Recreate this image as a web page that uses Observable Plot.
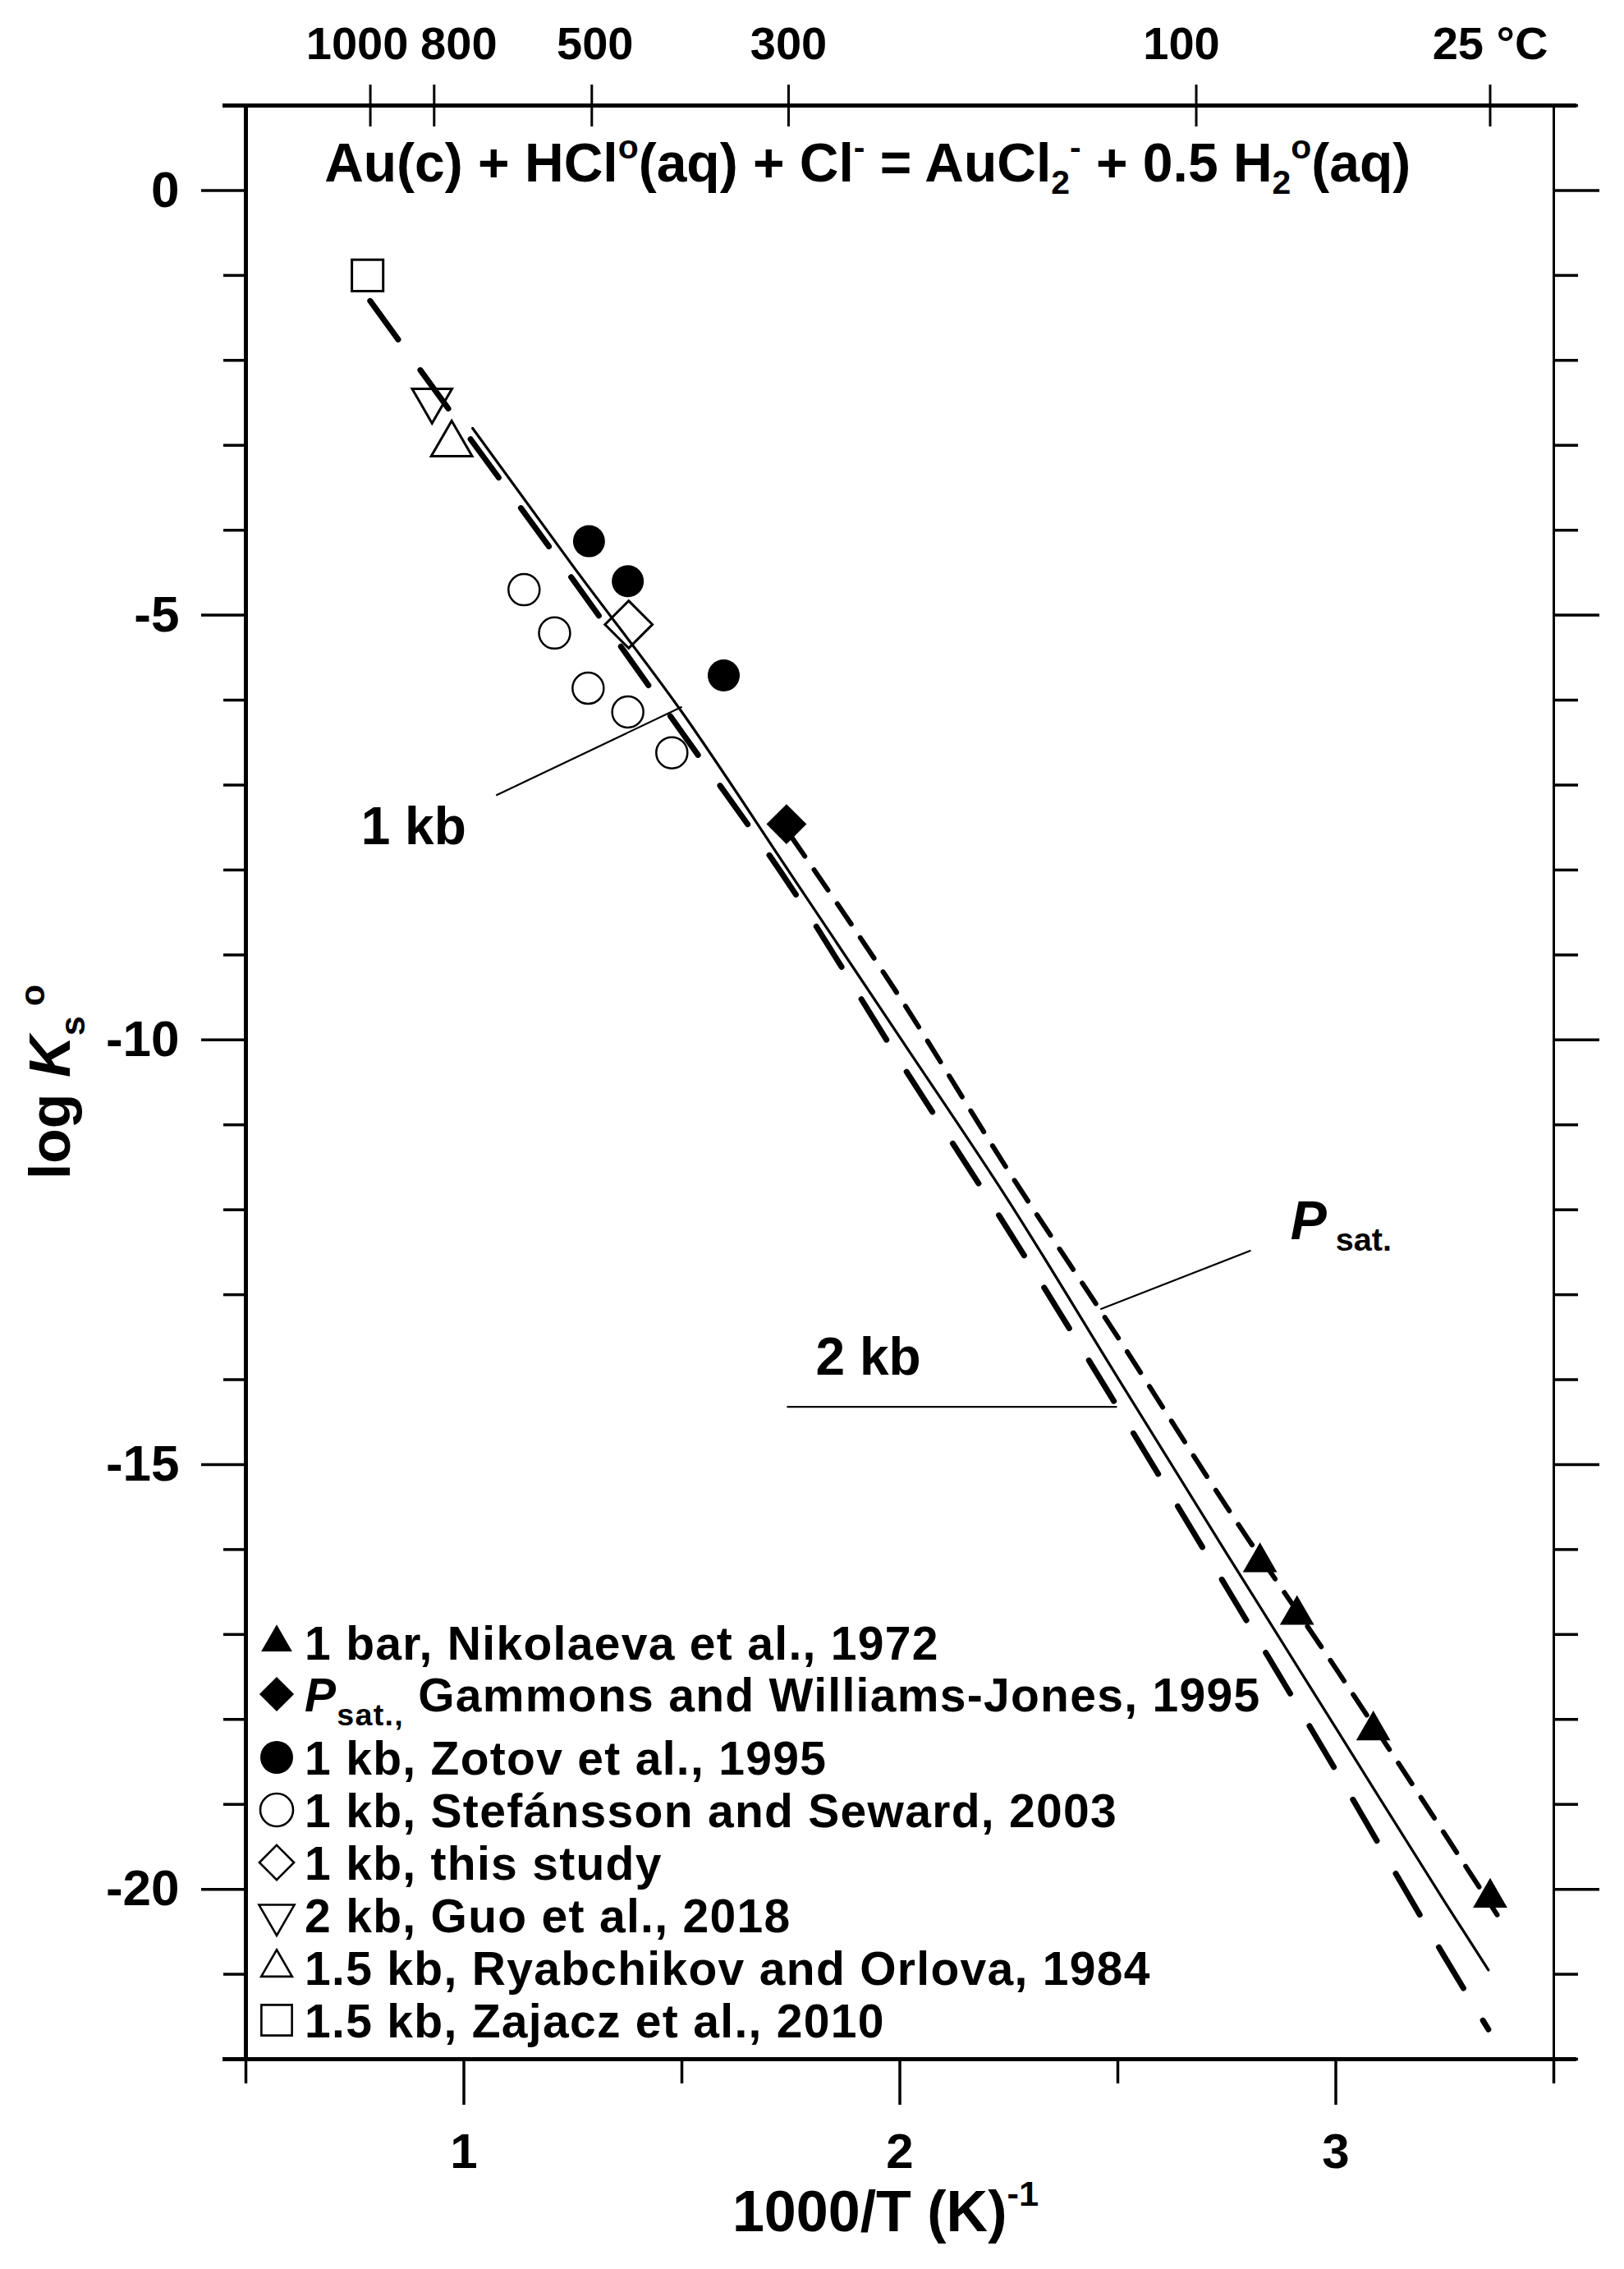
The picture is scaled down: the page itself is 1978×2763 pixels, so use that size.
<!DOCTYPE html>
<html>
<head>
<meta charset="utf-8">
<script src="https://cdn.jsdelivr.net/npm/d3@7"></script>
<script src="https://cdn.jsdelivr.net/npm/@observablehq/plot@0.6"></script>
<style>
  html, body { margin: 0; padding: 0; background: #fff; }
  #chart { width: 1978px; height: 2763px; }
  svg text { white-space: pre; }
</style>
</head>
<body>
<div id="chart"></div>
<script>
// ---------- scale extents & ticks ----------
const xDomain = [0.5, 3.5];
const yDomain = [-22, 1];
const topTempsC = [1000, 800, 500, 300, 100, 25];
const topTempLabels = ["1000", "800", "500", "300", "100", "25 °C"];
const bottomMajor = [1, 2, 3];
const bottomMinor = [0.5, 1.5, 2.5, 3.5];
const leftMajor = [0, -5, -10, -15, -20];
const leftMinor = [1, -1, -2, -3, -4, -6, -7, -8, -9, -11, -12, -13, -14, -16, -17, -18, -19, -21, -22];

// ---------- data points [1000/T, log Ks] ----------
const nikolaeva  = [[2.826, -16.15], [2.911, -16.77], [3.086, -18.13], [3.354, -20.10]];
const gammons    = [[1.740, -7.46]];
const zotov      = [[1.287, -4.13], [1.376, -4.60], [1.596, -5.71]];
const stefansson = [[1.138, -4.70], [1.208, -5.21], [1.285, -5.86], [1.376, -6.14], [1.477, -6.62]];
const thisStudy  = [[1.378, -5.11]];
const guo        = [[0.927, -2.47]];
const ryabchikov = [[0.972, -2.99]];
const zajacz     = [[0.779, -1.00]];

// ---------- model curves ----------
const curve1kb  = [[1.02, -2.80], [1.25, -4.42], [1.5, -6.14], [1.75, -8.05], [2.0, -9.97], [2.25, -11.90], [2.5, -13.98], [2.75, -16.05], [3.0, -18.10], [3.25, -20.15], [3.35, -20.95]];
const curve2kb  = [[0.785, -1.30], [1.0, -2.82], [1.25, -4.58], [1.5, -6.38], [1.75, -8.20], [2.0, -10.25], [2.25, -12.25], [2.5, -14.33], [2.75, -16.45], [3.0, -18.60], [3.25, -20.80], [3.35, -21.65]];
const curvePsat = [[1.75, -7.60], [2.0, -9.50], [2.25, -11.55], [2.5, -13.50], [2.75, -15.50], [3.0, -17.40], [3.25, -19.35], [3.37, -20.30]];

// ---------- annotations ----------
const curveLabels = [{text: "1 kb", x: 0.764, y: -7.50}, {text: "2 kb", x: 1.807, y: -13.74}];
const leaders = [
  {x1: 1.074, y1: -7.12, x2: 1.500, y2: -6.08},
  {x1: 1.741, y1: -14.32, x2: 2.498, y2: -14.32},
  {x1: 2.805, y1: -12.48, x2: 2.460, y2: -13.17}
];
const psatLabel = {x: 2.897, y: -12.35};
const titleAnchor = {x: 1.927, y: 0.10};

const topTicks = topTempsC.map((t, i) => ({x: 1000 / (t + 273.15), label: topTempLabels[i]}));
const topNudge = [-16, 30, 4, 0, -18, 0];

const X = d => d[0], Y = d => d[1];
const FONT = "'Liberation Sans', Arial, Helvetica, sans-serif";

const plot = Plot.plot({
  width: 1978,
  height: 2763,
  marginLeft: 299,
  marginRight: 86,
  marginTop: 128,
  marginBottom: 256,
  x: {domain: xDomain},
  y: {domain: yDomain},
  style: {fontFamily: FONT, fontWeight: "bold", background: "white", color: "black", overflow: "visible"},
  marks: [
    // axes
    Plot.axisY(leftMinor, {anchor: "left", tickSize: 27, tickFormat: () => "", strokeWidth: 3.5, label: null}),
    Plot.axisY(leftMajor, {anchor: "left", tickSize: 54, tickPadding: 27, tickFormat: d => String(d), fontSize: 62, fontWeight: "bold", strokeWidth: 3.5, label: null}),
    Plot.axisY(leftMinor, {anchor: "right", tickSize: 29, tickFormat: () => "", strokeWidth: 3.5, label: null}),
    Plot.axisY(leftMajor, {anchor: "right", tickSize: 55, tickFormat: () => "", strokeWidth: 3.5, label: null}),
    Plot.axisX(bottomMinor, {anchor: "bottom", tickSize: 30, tickFormat: () => "", strokeWidth: 3.5, label: null}),
    Plot.axisX(bottomMajor, {anchor: "bottom", tickSize: 56, tickPadding: 34, tickFormat: d => String(d), fontSize: 60, fontWeight: "bold", strokeWidth: 3.5, label: null}),
    Plot.axisX(topTicks.map(d => d.x), {anchor: "top", tickSize: 51, dy: 25, tickFormat: () => "", strokeWidth: 3, label: null}),
    ...topTicks.map((d, i) => Plot.text([d], {x: "x", text: "label", frameAnchor: "top", dy: -96, dx: topNudge[i], fontSize: 56, fontWeight: "bold"})),
    // frame
    Plot.frame({stroke: "black", strokeWidth: 3}),
    Plot.ruleX([xDomain[0]], {stroke: "black", strokeWidth: 5}),
    Plot.ruleY([yDomain[0]], {stroke: "black", strokeWidth: 5, insetLeft: -28, insetRight: -28}),
    Plot.ruleY([yDomain[1]], {stroke: "black", strokeWidth: 5, insetLeft: -28, insetRight: -28}),
    // curves
    Plot.line(curve2kb, {x: X, y: Y, stroke: "black", strokeWidth: 7, strokeDasharray: "58,46", curve: "monotone-x"}),
    Plot.line(curve1kb, {x: X, y: Y, stroke: "black", strokeWidth: 3.2, curve: "monotone-x"}),
    Plot.line(curvePsat, {x: X, y: Y, stroke: "black", strokeWidth: 6, strokeDasharray: "30,20", curve: "monotone-x"}),
    // leaders and labels
    Plot.link(leaders, {x1: "x1", y1: "y1", x2: "x2", y2: "y2", stroke: "black", strokeWidth: 2.2}),
    Plot.text(curveLabels, {x: "x", y: "y", text: "text", textAnchor: "start", fontSize: 64, fontWeight: "bold"}),
    // data
    Plot.dot(zajacz, {x: X, y: Y, symbol: "square", r: 21.5, fill: "none", stroke: "black", strokeWidth: 3}),
    Plot.dot(guo, {x: X, y: Y, symbol: "triangle", rotate: 180, r: 18, fill: "none", stroke: "black", strokeWidth: 3}),
    Plot.dot(ryabchikov, {x: X, y: Y, symbol: "triangle", r: 18.5, fill: "none", stroke: "black", strokeWidth: 3}),
    Plot.dot(stefansson, {x: X, y: Y, symbol: "circle", r: 19, fill: "none", stroke: "black", strokeWidth: 2.5}),
    Plot.dot(thisStudy, {x: X, y: Y, symbol: "diamond2", r: 26, fill: "none", stroke: "black", strokeWidth: 3}),
    Plot.dot(zotov, {x: X, y: Y, symbol: "circle", r: 19.5, fill: "black", stroke: "none"}),
    Plot.dot(gammons, {x: X, y: Y, symbol: "diamond2", r: 22, fill: "black", stroke: "none"}),
    Plot.dot(nikolaeva, {x: X, y: Y, symbol: "triangle", r: 15.5, fill: "black", stroke: "none"})
  ]
});

document.getElementById("chart").appendChild(plot);

// remove the empty tick texts of the label-less axes
d3.select(plot).selectAll("text").filter(function() { return this.textContent.trim() === ""; }).remove();

// ---------- rich text (sub/superscripts) ----------
const xs = plot.scale("x"), ys = plot.scale("y");
const svg = d3.select(plot);
const layer = svg.append("g").attr("font-family", FONT).attr("font-weight", "bold").attr("fill", "black");

function rich(x, y, parts, size, anchor = "start", rotate = 0, spacing = 0) {
  const g = layer.append("g").attr("transform", `translate(${x},${y})` + (rotate ? ` rotate(${rotate})` : ""));
  const t = g.append("text")
    .attr("x", 0).attr("y", 0)
    .attr("font-size", size)
    .attr("text-anchor", anchor)
    .style("white-space", "pre");
  if (spacing) t.attr("letter-spacing", spacing);
  let cur = 0;
  for (const p of parts) {
    const target = (p.shift || 0) * size;
    const s = t.append("tspan").text(p.t).attr("font-size", (p.scale || 1) * size);
    if (target !== cur) { s.attr("dy", target - cur); cur = target; }
    if (p.dx) s.attr("dx", p.dx * size);
    if (p.italic) s.attr("font-style", "italic");
  }
  return t;
}

const SUB = 0.22, SUP = -0.42, SM = 0.62;
// title
rich(xs.apply(titleAnchor.x), ys.apply(titleAnchor.y), [
  {t: "Au(c) + HCl"}, {t: "o", scale: SM, shift: SUP}, {t: "(aq) + Cl"}, {t: "-", scale: SM, shift: SUP},
  {t: " = AuCl"}, {t: "2", scale: SM, shift: SUB}, {t: "-", scale: SM, shift: SUP},
  {t: " + 0.5 H"}, {t: "2", scale: SM, shift: SUB}, {t: "o", scale: SM, shift: SUP},
  {t: "(aq)"}
], 66, "middle");

// P sat. annotation
rich(xs.apply(psatLabel.x), ys.apply(psatLabel.y), [
  {t: "P", italic: true}, {t: " sat.", scale: 0.6, shift: 0.22}
], 66, "start");

// x axis title
rich(xs.apply(1.968), ys.apply(yDomain[0]) + 210, [
  {t: "1000/T (K)"}, {t: "-1", scale: SM, shift: -0.45}
], 70, "middle");

// y axis title
rich(85, (ys.apply(yDomain[0]) + ys.apply(yDomain[1])) / 2, [
  {t: "log "}, {t: "K", italic: true}, {t: "s", scale: SM, shift: 0.25}, {t: " o", scale: SM, shift: -0.45}
], 70, "middle", -90);

// ---------- legend ----------
const legendItems = [
  {type: d3.symbolTriangle, r: 14, fill: "black", rot: 0, parts: [{t: "1 bar, Nikolaeva et al., 1972"}]},
  {type: d3.symbolDiamond2, r: 19, fill: "black", rot: 0, parts: [{t: "P", italic: true}, {t: "sat.,", scale: 0.66, shift: 0.3}, {t: " Gammons and Williams-Jones, 1995"}]},
  {type: d3.symbolCircle, r: 20, fill: "black", rot: 0, parts: [{t: "1 kb, Zotov et al., 1995"}]},
  {type: d3.symbolCircle, r: 20, fill: "none", rot: 0, parts: [{t: "1 kb, Stefánsson and Seward, 2003"}]},
  {type: d3.symbolDiamond2, r: 19, fill: "none", rot: 0, parts: [{t: "1 kb, this study"}]},
  {type: d3.symbolTriangle, r: 16, fill: "none", rot: 180, parts: [{t: "2 kb, Guo et al., 2018"}]},
  {type: d3.symbolTriangle, r: 14, fill: "none", rot: 0, parts: [{t: "1.5 kb, Ryabchikov and Orlova, 1984"}]},
  {type: d3.symbolSquare, r: 21, fill: "none", rot: 0, parts: [{t: "1.5 kb, Zajacz et al., 2010"}]}
];
const legendRows = [2000, 2063, 2140, 2204, 2268, 2332, 2396, 2460];
const legendSymX = 337, legendTextX = 371, legendFont = 57;
legendItems.forEach((it, i) => {
  const cy = legendRows[i];
  layer.append("path")
    .attr("d", d3.symbol().type(it.type).size(Math.PI * it.r * it.r)())
    .attr("transform", `translate(${legendSymX},${cy}) rotate(${it.rot})`)
    .attr("fill", it.fill === "none" ? "none" : "black")
    .attr("stroke", it.fill === "none" ? "black" : "none")
    .attr("stroke-width", 2.6);
  rich(legendTextX, cy + 0.36 * legendFont, it.parts, legendFont, "start", 0, 1.3);
});
</script>
</body>
</html>
